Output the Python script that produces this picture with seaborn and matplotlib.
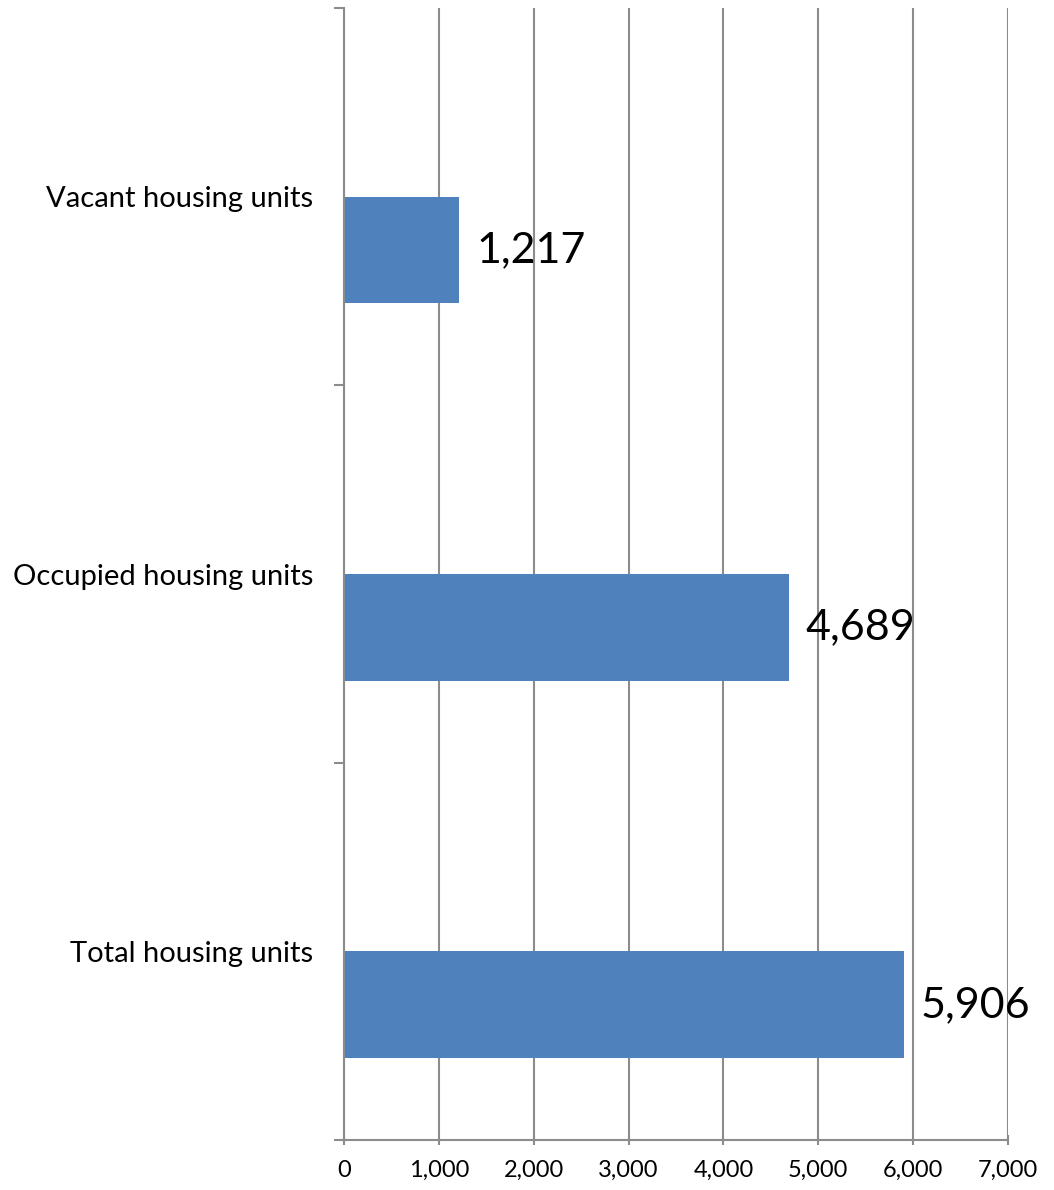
import matplotlib
matplotlib.use("Agg")
import matplotlib.pyplot as plt
import seaborn as sns
import pandas as pd
from matplotlib.ticker import FuncFormatter, FixedLocator

categories = ["Vacant housing units", "Occupied housing units", "Total housing units"]
values = [1217, 4689, 5906]
series_name = "Series1"
value_labels = ["1,217", "4,689", "5,906"]
x_ticks = [0, 1000, 2000, 3000, 4000, 5000, 6000, 7000]

sns.set_theme(style="white")
plt.rcParams['font.family'] = ['Lato', 'DejaVu Sans']
plt.rcParams['text.color'] = 'black'
plt.rcParams['xtick.color'] = 'black'
plt.rcParams['ytick.color'] = 'black'

df = pd.DataFrame({"category": categories, "value": values, "series": [series_name] * 3})

fig = plt.figure(figsize=(10.54, 11.90), dpi=100)
ax = fig.add_axes([344/1054, 1 - 1140/1190, (1008-344)/1054, (1140-8)/1190])

sns.barplot(data=df, y="category", x="value", hue="series",
            hue_order=["_empty", series_name], order=categories,
            palette={"_empty": "#4F81BD", series_name: "#4F81BD"},
            orient="h", width=0.566, dodge=True, legend=False, ax=ax,
            saturation=1, edgecolor="none")

ax.set_xlim(0, 7000)
ax.set_ylim(2.5, -0.5)
ax.set_xlabel("")
ax.set_ylabel("")

ax.xaxis.set_major_locator(FixedLocator(x_ticks))
ax.xaxis.set_major_formatter(FuncFormatter(lambda v, p: f"{int(v):,}"))
ax.grid(axis="x", color="#8c8c8c", linewidth=1.5)
ax.set_axisbelow(True)

# y ticks at band edges, labels at band centers
ax.set_yticks([-0.5, 0.5, 1.5, 2.5])
ax.set_yticklabels([])
ax.set_yticks([0, 1, 2], minor=True)
ax.set_yticklabels(categories, minor=True, fontsize=21, color="black")
ax.tick_params(axis="y", which="minor", length=0, pad=22)
ax.tick_params(axis="y", which="major", length=7, width=1.5, color="#8c8c8c", direction="out", left=True)
ax.tick_params(axis="x", which="major", length=7, width=1.5, color="#8c8c8c", direction="inout",
               bottom=True, labelsize=17, pad=11, labelcolor="black")

for s in ["top", "right"]:
    ax.spines[s].set_visible(False)
for s in ["left", "bottom"]:
    ax.spines[s].set_color("#8c8c8c")
    ax.spines[s].set_linewidth(1.5)

# data labels
for i, (v, lab) in enumerate(zip(values, value_labels)):
    ax.annotate(lab, xy=(v, i + 0.1415), xytext=(12, 0), textcoords="offset points",
                va="center", ha="left", fontsize=31, color="black")

fig.savefig("out.png", dpi=100)
